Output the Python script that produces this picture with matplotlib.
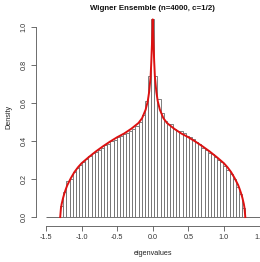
import matplotlib
matplotlib.use("Agg")
import matplotlib.pyplot as plt
import numpy as np

AXIS = "#555555"
BAR = "#6a6a6a"
RED = "#dd1111"

# histogram: 59 equal bins spanning the eigenvalue support
bin_lo, bin_hi, n_bins = -1.3, 1.3, 59
density = [
    0.06, 0.13, 0.19, 0.20, 0.235, 0.26, 0.275, 0.29, 0.305, 0.32,
    0.335, 0.34, 0.355, 0.365, 0.38, 0.385, 0.40, 0.405, 0.42, 0.425,
    0.435, 0.44, 0.455, 0.465, 0.48, 0.50, 0.535, 0.61, 0.74,
    1.04,
    0.74, 0.62, 0.545, 0.505, 0.49, 0.488, 0.465, 0.455, 0.454, 0.44,
    0.425, 0.423, 0.41, 0.395, 0.385, 0.365, 0.355, 0.337, 0.33, 0.315,
    0.30, 0.29, 0.27, 0.25, 0.225, 0.20, 0.16, 0.12, 0.05,
]

# theoretical density curve
curve_x = [
    -1.30, -1.29, -1.28, -1.26, -1.24, -1.22, -1.20, -1.15, -1.10, -1.05,
    -1.00, -0.90, -0.80, -0.70, -0.60, -0.50, -0.40, -0.30, -0.20, -0.15,
    -0.10, -0.07, -0.05, -0.03, -0.02, -0.01, 0.00, 0.01, 0.02, 0.03,
    0.05, 0.07, 0.10, 0.15, 0.20, 0.30, 0.40, 0.50, 0.60, 0.70,
    0.80, 0.90, 1.00, 1.05, 1.10, 1.15, 1.20, 1.22, 1.24, 1.26,
    1.28, 1.29, 1.30,
]
curve_y = [
    0.0, 0.045, 0.068, 0.10, 0.126, 0.148, 0.168, 0.205, 0.237, 0.262,
    0.283, 0.315, 0.345, 0.372, 0.397, 0.42, 0.44, 0.465, 0.495, 0.52,
    0.565, 0.61, 0.66, 0.74, 0.82, 0.92, 1.04, 0.92, 0.82, 0.74,
    0.66, 0.61, 0.565, 0.52, 0.495, 0.465, 0.44, 0.42, 0.397, 0.372,
    0.345, 0.315, 0.283, 0.262, 0.237, 0.205, 0.168, 0.148, 0.126, 0.10,
    0.068, 0.045, 0.0,
]

x_ticks = [-1.5, -1.0, -0.5, 0.0, 0.5, 1.0, 1.5]
y_ticks = [0.0, 0.2, 0.4, 0.6, 0.8, 1.0]

plt.rcParams["font.family"] = ["Liberation Sans", "DejaVu Sans"]

W, H = 260, 262
fig = plt.figure(figsize=(W / 100, H / 100), dpi=100)
# plot region in pixels: left 36, bottom line at y=226
ax = fig.add_axes([36 / W, (H - 226) / H, 233.5 / W, 218 / H])
ax.set_xlim(-1.64, 1.64)
ax.set_ylim(-0.047, 1.10)

edges = np.linspace(bin_lo, bin_hi, n_bins + 1)
ax.bar(edges[:-1], density, width=np.diff(edges), align="edge",
       facecolor="white", edgecolor=BAR, linewidth=0.6, zorder=2)
ax.hlines(0, -1.5, 1.5, color=BAR, linewidth=0.7, zorder=1)
ax.plot(curve_x, curve_y, color=RED, linewidth=1.4, zorder=3)

for side in ("top", "right"):
    ax.spines[side].set_visible(False)
for side in ("left", "bottom"):
    ax.spines[side].set_color(AXIS)
    ax.spines[side].set_linewidth(0.6)
ax.spines["bottom"].set_bounds(-1.5, 1.5)
ax.spines["left"].set_bounds(0.0, 1.0)

ax.set_xticks(x_ticks)
ax.set_xticklabels([f"{t:.1f}" for t in x_ticks])
ax.set_yticks(y_ticks)
ax.set_yticklabels([f"{t:.1f}" for t in y_ticks], rotation=90, va="center")
ax.tick_params(colors=AXIS, labelcolor="#333333", length=3.5, width=0.6,
               labelsize=5.2, pad=2.5)

ax.set_xlabel("eigenvalues", fontsize=5.2, color="#222222", labelpad=6)
ax.set_ylabel("Density", fontsize=5.2, color="#222222", labelpad=6)
fig.text(152 / W, 1 - 9 / H, "Wigner Ensemble (n=4000, c=1/2)",
         ha="center", va="center", fontsize=5.7, fontweight="bold",
         color="#111111")

fig.savefig("out.png", dpi=100, facecolor="white")
